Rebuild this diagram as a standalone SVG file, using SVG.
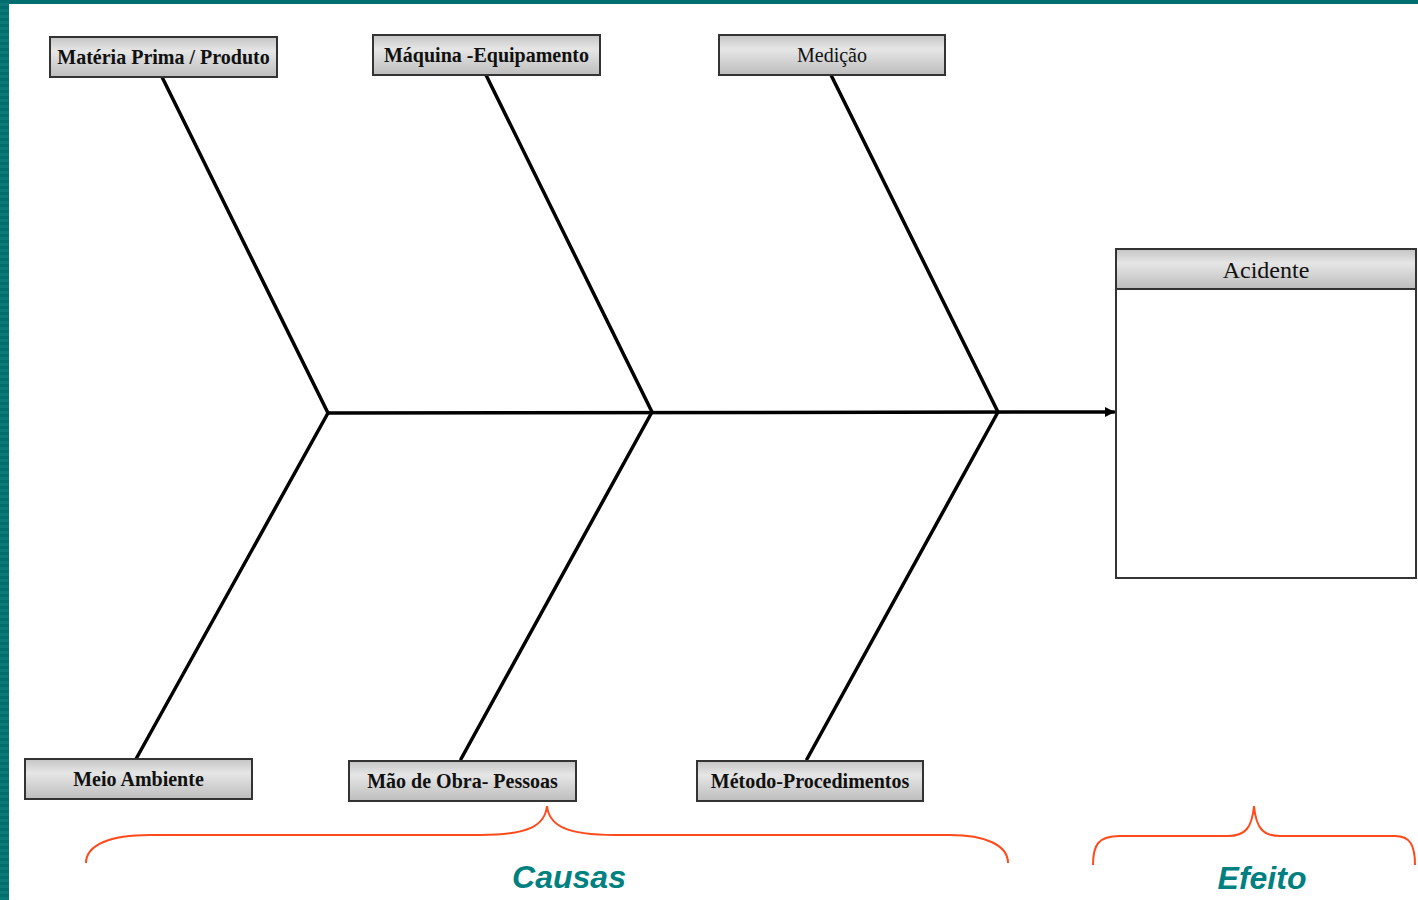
<svg xmlns="http://www.w3.org/2000/svg" width="1418" height="900" viewBox="0 0 1418 900">
<defs>
<linearGradient id="g" x1="0" y1="0" x2="0" y2="1">
<stop offset="0" stop-color="#c4c4c4"/>
<stop offset="0.35" stop-color="#e6e6e6"/>
<stop offset="1" stop-color="#bdbdbd"/>
</linearGradient>
<pattern id="stripe" width="8" height="6" patternUnits="userSpaceOnUse">
<rect width="8" height="6" fill="#006e6e"/>
<rect y="3" width="8" height="3" fill="#0a7a78"/>
</pattern>
<marker id="arr" markerWidth="10" markerHeight="10" refX="9" refY="5" orient="auto" markerUnits="userSpaceOnUse">
<path d="M0,0 L10,5 L0,10 Z" fill="#000"/>
</marker>
</defs>
<style>
.box{fill:url(#g);stroke:#333;stroke-width:2}
.lb{font-family:"Liberation Serif",serif;font-weight:bold;font-size:20px;fill:#111;text-anchor:middle}
.ln{font-family:"Liberation Serif",serif;font-size:20px;fill:#111;text-anchor:middle}
.bone{stroke:#000;stroke-width:3.5;fill:none;stroke-linecap:round}
.brace{stroke:#ff4a1c;stroke-width:2;fill:none}
.big{font-family:"Liberation Sans",sans-serif;font-weight:bold;font-style:italic;font-size:32px;fill:#008080;text-anchor:middle}
</style>
<rect width="1418" height="900" fill="#fff"/>
<rect x="0" y="0" width="1418" height="4" fill="#006e6e"/>
<rect x="0" y="0" width="9" height="900" fill="url(#stripe)"/>
<g id="connectors">
<line class="bone" x1="328" y1="413" x2="1114" y2="412" marker-end="url(#arr)"/>
<line class="bone" x1="162" y1="77" x2="328" y2="413"/>
<line class="bone" x1="486" y1="75" x2="652" y2="412"/>
<line class="bone" x1="831" y1="75" x2="998" y2="412"/>
<line class="bone" x1="136" y1="759" x2="328" y2="413"/>
<line class="bone" x1="461" y1="759" x2="652" y2="412"/>
<line class="bone" x1="807" y1="759" x2="998" y2="412"/>
</g>
<g id="n-materia"><rect class="box" x="50" y="37" width="227" height="40"/><text class="lb" x="163.5" y="64">Matéria Prima / Produto</text></g>
<g id="n-maquina"><rect class="box" x="373" y="35" width="227" height="40"/><text class="lb" x="486.5" y="62">Máquina -Equipamento</text></g>
<g id="n-medicao"><rect class="box" x="719" y="35" width="226" height="40"/><text class="ln" x="832" y="62">Medição</text></g>
<g id="n-meio"><rect class="box" x="25" y="759" width="227" height="40"/><text class="lb" x="138.5" y="786">Meio Ambiente</text></g>
<g id="n-mao"><rect class="box" x="349" y="761" width="227" height="40"/><text class="lb" x="462.5" y="788">Mão de Obra- Pessoas</text></g>
<g id="n-metodo"><rect class="box" x="697" y="761" width="226" height="40"/><text class="lb" x="810" y="788">Método-Procedimentos</text></g>
<g id="n-acidente">
<rect x="1116" y="249" width="300" height="329" fill="#fff" stroke="#333" stroke-width="2"/>
<rect class="box" x="1116" y="249" width="300" height="40"/>
<text class="ln" x="1266" y="278" style="font-size:24px">Acidente</text>
</g>
<g id="braces">
<path class="brace" d="M86,863 C86,845 110,835 150,835 L480,835 C530,835 545,825 547,806 C549,825 565,835 615,835 L950,835 C985,835 1008,845 1008,863"/>
<path class="brace" d="M1093,865 C1093,845 1098,836 1120,836 L1228,836 C1245,836 1252,828 1254,806 C1256,828 1263,836 1280,836 L1395,836 C1410,836 1415,845 1415,865"/>
</g>
<text class="big" x="569" y="888">Causas</text>
<text class="big" x="1262" y="889">Efeito</text>
</svg>
